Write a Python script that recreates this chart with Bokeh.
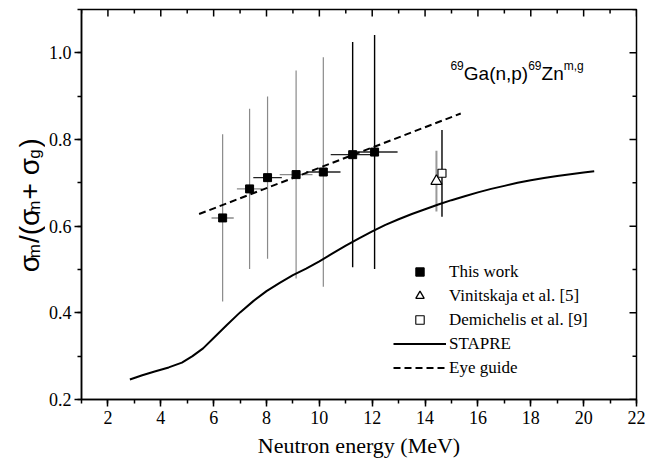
import math
from bokeh.plotting import figure
from bokeh.layouts import row
from bokeh.models import (ColumnDataSource, Range1d, Legend, LegendItem, Label,
                          FixedTicker, PrintfTickFormatter)
from bokeh.embed import file_html
from bokeh.resources import INLINE

# --- measured isomeric ratios (this work) ---
energy = [6.34, 7.36, 8.04, 9.12, 10.15, 11.26, 12.09]
energy_err = [0.42, 0.48, 0.54, 0.62, 0.65, 0.83, 0.87]
ratio = [0.619, 0.686, 0.712, 0.719, 0.725, 0.765, 0.771]
ratio_err = [0.193, 0.185, 0.187, 0.240, 0.265, 0.260, 0.270]

# --- literature values ---
vin_energy = [14.43]
vin_ratio = [0.704]
vin_err = [0.070]
dem_energy = [14.64]
dem_ratio = [0.722]
dem_err = [0.100]

# --- STAPRE calculation ---
stapre_energy = [2.83, 3.3, 3.8, 4.3, 4.8, 5.2, 5.6, 6.0, 6.5, 7.0, 7.5, 8.0, 8.5,
                 9.0, 9.5, 10.0, 10.5, 11.0, 11.5, 12.0, 12.5, 13.0, 13.5, 14.0,
                 14.5, 15.0, 15.5, 16.0, 16.5, 17.0, 17.5, 18.0, 18.5, 19.0, 19.5,
                 20.0, 20.4]
stapre_ratio = [0.246, 0.256, 0.265, 0.274, 0.285, 0.300, 0.318, 0.342, 0.372,
                0.401, 0.427, 0.450, 0.469, 0.487, 0.502, 0.519, 0.537, 0.555,
                0.572, 0.588, 0.603, 0.616, 0.628, 0.639, 0.650, 0.660, 0.669,
                0.678, 0.686, 0.693, 0.700, 0.706, 0.711, 0.716, 0.720, 0.724,
                0.727]

# --- eye guide ---
guide_energy = [5.45, 15.35]
guide_ratio = [0.628, 0.860]

x_major = [2, 4, 6, 8, 10, 12, 14, 16, 18, 20, 22]
x_minor = list(range(1, 23))
y_major = [0.2, 0.4, 0.6, 0.8, 1.0]
y_minor = [0.2, 0.3, 0.4, 0.5, 0.6, 0.7, 0.8, 0.9, 1.0, 1.1]

SERIF = "Liberation Serif"
SANS = "Liberation Sans"

W, H = 647, 466
LABEL_W = 45                      # strip holding the vertical axis title
FL, FR, FT, FB = 81, 636, 9, 399  # frame edges on the page
X0, X1, Y0, Y1 = 1, 22, 0.2, 1.1
DX = (X1 - X0) / (FR - FL)
DY = (Y1 - Y0) / (FB - FT)

p = figure(width=W - LABEL_W, height=H, x_range=Range1d(X0, X1), y_range=Range1d(Y0, Y1),
           output_backend="svg", toolbar_location=None,
           min_border_left=FL - LABEL_W, min_border_right=W - FR, min_border_top=FT,
           min_border_bottom=H - FB)
p.xgrid.grid_line_color = None
p.ygrid.grid_line_color = None
p.outline_line_color = "black"
p.outline_line_width = 1.5
p.background_fill_color = "white"
p.border_fill_color = "white"

def style_axis(ax, ticks, minor):
    ax.ticker = FixedTicker(ticks=ticks, minor_ticks=minor)
    ax.axis_line_color = "black"
    ax.axis_line_width = 1.5
    ax.major_tick_line_color = "black"
    ax.minor_tick_line_color = "black"
    ax.major_tick_line_width = 1.5
    ax.minor_tick_line_width = 1.5
    ax.major_tick_out, ax.major_tick_in = 7, 0
    ax.minor_tick_out, ax.minor_tick_in = 4, 0
    ax.major_label_text_font = SERIF
    ax.major_label_text_font_size = "18px"
    ax.major_label_text_color = "black"

xa = p.xaxis[0]
style_axis(xa, x_major, x_minor)
xa.major_label_standoff = 4
xa.axis_label = "Neutron energy (MeV)"
xa.axis_label_text_font = SERIF
xa.axis_label_text_font_size = "22px"
xa.axis_label_text_font_style = "normal"
xa.axis_label_text_color = "black"
xa.axis_label_standoff = 6

ya = p.yaxis[0]
style_axis(ya, y_major, y_minor)
ya.major_label_standoff = 3
ya.formatter = PrintfTickFormatter(format="%.1f")

# inward mirror ticks on the top and right frame edges
def inner_ticks(vals, length, horizontal_edge):
    if horizontal_edge:
        p.segment(x0=vals, y0=[Y1] * len(vals), x1=vals, y1=[Y1 - length * DY] * len(vals),
                  line_color="black", line_width=1.5)
    else:
        p.segment(x0=[X1] * len(vals), y0=vals, x1=[X1 - length * DX] * len(vals), y1=vals,
                  line_color="black", line_width=1.5)

inner_ticks([v for v in x_minor if v not in x_major], 4, True)
inner_ticks(x_major, 7, True)
inner_ticks([v for v in y_minor if v not in y_major], 4, False)
inner_ticks(y_major, 7, False)

# error bars
def vbars(idx, color, width):
    src = ColumnDataSource(dict(
        x=[energy[i] for i in idx],
        lo=[ratio[i] - ratio_err[i] for i in idx],
        hi=[ratio[i] + ratio_err[i] for i in idx]))
    p.segment(x0="x", y0="lo", x1="x", y1="hi", source=src, line_color=color, line_width=width)

def hbars(idx, color, width):
    src = ColumnDataSource(dict(
        y=[ratio[i] for i in idx],
        lo=[energy[i] - energy_err[i] for i in idx],
        hi=[energy[i] + energy_err[i] for i in idx]))
    p.segment(x0="lo", y0="y", x1="hi", y1="y", source=src, line_color=color, line_width=width)

vbars([0, 1, 2, 3, 4], "#8a8a8a", 1.2)
vbars([5, 6], "black", 1.4)
hbars([0, 1, 3], "#8a8a8a", 1.4)
hbars([2, 4, 5, 6], "#222222", 1.4)

p.segment(x0=vin_energy, y0=[v - e for v, e in zip(vin_ratio, vin_err)],
          x1=vin_energy, y1=[v + e for v, e in zip(vin_ratio, vin_err)],
          line_color="#999999", line_width=2)
p.segment(x0=dem_energy, y0=[v - e for v, e in zip(dem_ratio, dem_err)],
          x1=dem_energy, y1=[v + e for v, e in zip(dem_ratio, dem_err)],
          line_color="black", line_width=1.4)

r_stapre = p.line(stapre_energy, stapre_ratio, line_color="black", line_width=2)
r_guide = p.line(guide_energy, guide_ratio, line_color="black", line_width=2,
                 line_dash="7 4")

r_this = p.scatter(energy, ratio, marker="square", size=8, fill_color="black",
                   line_color="black")
r_vin = p.scatter(vin_energy, vin_ratio, marker="triangle", size=11,
                  fill_color="white", line_color="black", line_width=1.3)
r_dem = p.scatter(dem_energy, dem_ratio, marker="square", size=8,
                  fill_color="white", line_color="black", line_width=1.1)

legend = Legend(items=[
    LegendItem(label="This work", renderers=[r_this]),
    LegendItem(label="Vinitskaja et al. [5]", renderers=[r_vin]),
    LegendItem(label="Demichelis et al. [9]", renderers=[r_dem]),
    LegendItem(label="STAPRE", renderers=[r_stapre]),
    LegendItem(label="Eye guide", renderers=[r_guide]),
], location=(312, 21))
legend.background_fill_alpha = 0
legend.border_line_color = None
legend.padding = 0
legend.margin = 0
legend.spacing = 3
legend.glyph_width = 53
legend.glyph_height = 21
legend.label_height = 21
legend.label_standoff = 3
legend.label_text_font = SERIF
legend.label_text_font_size = "17px"
legend.label_text_color = "black"
legend.label_text_baseline = "middle"
p.add_layout(legend)

# approximate advance widths (em) for laying out runs of mixed-size text
ADV = {'σ': 0.60, '6': .556, '9': .556, 'G': .778, 'a': .556, '(': .333,
       ')': .333, 'n': .556, ',': .278, 'p': .556, 'Z': .611, 'm': .833, 'g': .556,
       '/': .278, ' ': .278, '+': .584}

def width_px(text, size):
    return sum(ADV.get(c, 0.55) for c in text) * size

# reaction label inside the frame, with superscripts
def reaction_label(x, y, pieces):
    pos = 0.0
    for text, size, shift in pieces:
        p.add_layout(Label(x=x + pos * DX, y=y + shift * DY, text=text,
                           text_font=SANS, text_font_size=f"{size}px",
                           text_color="black", text_align="left",
                           text_baseline="alphabetic"))
        pos += width_px(text, size)

reaction_label(14.96, 0.952, [("69", 12, 8), ("Ga(n,p)", 19, 0), ("69", 12, 8),
                              ("Zn", 19, 0), ("m,g", 12, 8)])

# vertical axis title with subscripts, drawn in its own strip (pixel coordinates)
t = figure(width=LABEL_W, height=H, x_range=Range1d(0, LABEL_W), y_range=Range1d(0, H),
           output_backend="svg", toolbar_location=None, x_axis_location=None,
           y_axis_location=None, min_border=0)
t.outline_line_color = None
t.xgrid.grid_line_color = None
t.ygrid.grid_line_color = None
t.background_fill_color = "white"
t.border_fill_color = "white"

title_runs = [("σ", 28, 0), ("m", 17, -5), ("/(σ", 28, 0), ("m", 17, -5),
              (" + σ", 28, 0), ("g", 17, -5), (")", 28, 0)]
base_x, start_y = 29, H - 314
pos = 0.0
for text, size, shift in title_runs:
    t.text(x=[base_x - shift], y=[start_y + pos], text=[text], angle=math.pi / 2,
           text_font={"value": SANS}, text_font_size=f"{size}px", text_color="black",
           text_align="left", text_baseline="alphabetic")
    pos += width_px(text, size) + (4 if size < 20 else 0)

layout = row(t, p, spacing=0)
open("out.html", "w").write(file_html(layout, INLINE))
